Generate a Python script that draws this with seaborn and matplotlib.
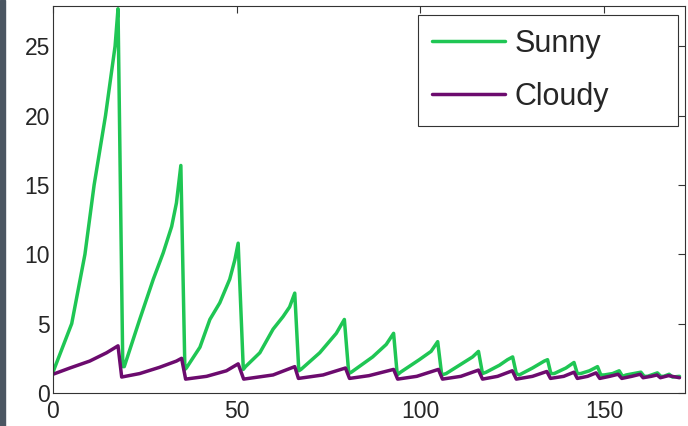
import matplotlib
matplotlib.use("Agg")
import matplotlib.pyplot as plt
from matplotlib.patches import Rectangle
import seaborn as sns
import pandas as pd

# vertices (x, value)
sunny_x = [0, 5.1, 8.7, 11.2, 14.3, 16.9, 17.7, 19.0,
           19.4, 23.6, 27.3, 30.0, 32.3, 33.6, 34.8, 35.9,
           36.3, 40.0, 42.7, 45.4, 48.1, 49.5, 50.4, 51.8,
           52.4, 56.3, 59.9, 62.6, 64.4, 65.8, 66.9,
           67.5, 72.6, 77.1, 79.3, 80.5,
           81.2, 87.0, 90.7, 92.7, 93.7,
           94.6, 99.7, 102.9, 104.7, 105.8,
           107.0, 110.6, 114.2, 115.8, 116.9,
           117.9, 121.5, 123.7, 125.1, 126.1,
           126.9, 130.5, 133.7, 134.6, 135.5,
           136.4, 139.6, 141.8, 142.7,
           143.6, 146.0, 148.2, 149.1,
           150.0, 152.3, 154.1, 155.0,
           156.0, 160.0, 160.9,
           161.8, 164.5, 165.4,
           166.2, 167.7, 168.6, 170.5]
sunny_y = [1.5, 5.0, 10.0, 15.0, 20.0, 25.0, 27.7, 1.9,
           1.9, 5.3, 8.2, 10.1, 12.0, 13.7, 16.4, 1.7,
           1.8, 3.3, 5.3, 6.5, 8.2, 9.6, 10.8, 1.7,
           1.9, 2.9, 4.6, 5.5, 6.2, 7.2, 1.6,
           1.7, 2.9, 4.3, 5.3, 1.4,
           1.5, 2.6, 3.5, 4.3, 1.3,
           1.5, 2.4, 3.0, 3.7, 1.3,
           1.4, 2.0, 2.6, 3.0, 1.4,
           1.5, 2.0, 2.4, 2.6, 1.4,
           1.3, 1.8, 2.3, 2.4, 1.4,
           1.4, 1.8, 2.2, 1.4,
           1.4, 1.6, 1.9, 1.3,
           1.3, 1.4, 1.6, 1.2,
           1.3, 1.5, 1.2,
           1.2, 1.45, 1.2,
           1.2, 1.35, 1.15, 1.2]

cloudy_x = [0, 4.6, 10.0, 14.6, 17.7, 18.7,
            23.6, 29.0, 33.6, 35.0, 36.1,
            41.8, 47.2, 50.4, 51.9,
            59.9, 65.8, 66.8,
            73.5, 79.6, 80.7,
            86.0, 92.7, 93.8,
            99.0, 104.9, 106.0,
            111.0, 115.8, 116.9,
            121.0, 125.0, 126.1,
            130.5, 134.4, 135.4,
            139.0, 141.8, 142.7,
            145.5, 147.8, 148.8,
            151.5, 153.8, 154.8,
            157.5, 159.8, 160.6,
            162.8, 164.4, 165.3,
            167.5, 170.5]
cloudy_y = [1.35, 1.8, 2.3, 2.9, 3.4, 1.15,
            1.4, 1.85, 2.3, 2.5, 1.0,
            1.2, 1.6, 2.1, 1.0,
            1.3, 1.9, 1.05,
            1.3, 1.8, 1.05,
            1.25, 1.7, 1.0,
            1.2, 1.7, 1.0,
            1.2, 1.65, 1.0,
            1.2, 1.6, 1.0,
            1.2, 1.55, 1.05,
            1.2, 1.5, 1.05,
            1.2, 1.45, 1.05,
            1.2, 1.35, 1.05,
            1.2, 1.35, 1.1,
            1.2, 1.3, 1.1,
            1.25, 1.1]

data = pd.concat([
    pd.DataFrame({'t': sunny_x, 'value': sunny_y, 'series': 'Sunny'}),
    pd.DataFrame({'t': cloudy_x, 'value': cloudy_y, 'series': 'Cloudy'}),
], ignore_index=True)

sns.set_theme(style='white')
plt.rcParams['font.family'] = ['Liberation Sans', 'DejaVu Sans']

fig = plt.figure(figsize=(6.88, 4.26), dpi=100)
ax = fig.add_axes([0.077, 0.0775, 0.9186, 0.9085])

sns.lineplot(
    data=data, x='t', y='value', hue='series',
    palette={'Sunny': '#1fc654', 'Cloudy': '#6c0b6e'},
    sort=False, estimator=None, linewidth=2.5, ax=ax
)

ax.set_xlim(0, 172)
ax.set_ylim(0, 27.9)
ax.set_xticks([0, 50, 100, 150])
ax.set_yticks([0, 5, 10, 15, 20, 25])
ax.set_xlabel('')
ax.set_ylabel('')
for s in ax.spines.values():
    s.set_visible(True)
    s.set_color('#333333')
    s.set_linewidth(0.8)
ax.tick_params(direction='in', length=5, width=0.8, color='#333333',
               top=True, right=True, labelsize=16.5, pad=2)
ax.tick_params(axis='x', pad=5)

handles, labels = ax.get_legend_handles_labels()
leg = ax.legend(handles, labels, loc='upper left',
                bbox_to_anchor=(0.5775, 0.6925, 0.4115, 0.2842),
                mode='expand', borderaxespad=0, fontsize=22,
                handlelength=2.4, handletextpad=0.3, labelspacing=0.76,
                borderpad=0.45, fancybox=False, framealpha=1)
leg.get_frame().set_edgecolor('#333333')
leg.get_frame().set_linewidth(0.8)

fig.patches.append(Rectangle((0, 0), 5 / 688, 1, transform=fig.transFigure,
                             color='#4b5662', zorder=0))

fig.savefig('out.png', dpi=100)
